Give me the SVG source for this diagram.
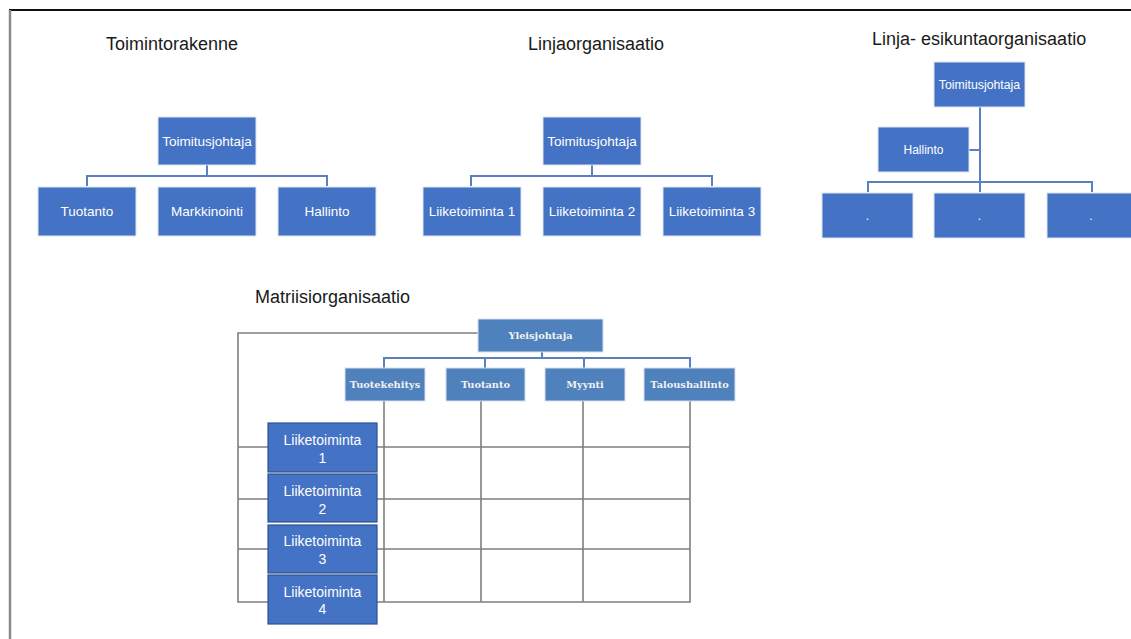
<svg xmlns="http://www.w3.org/2000/svg" width="1131" height="639" viewBox="0 0 1131 639">
  <style>
    .title { font-family: "Liberation Sans", Arial, sans-serif; font-size: 18px; fill: #1a1a1a; }
    .box { fill: #4472c4; stroke: #dbe3f3; stroke-width: 1; }
    .sbox { fill: #4f81bd; stroke: #d5e0ef; stroke-width: 1; }
    .rbox { fill: #4472c4; stroke: #2f528f; stroke-width: 1.2; }
    .lbl { font-family: "Liberation Sans", Arial, sans-serif; fill: #ffffff; text-anchor: middle; dominant-baseline: central; }
    .slbl { font-family: "DejaVu Serif", serif; font-weight: bold; font-size: 9.8px; fill: #f2f2f2; text-anchor: middle; dominant-baseline: central; }
    .conn { fill: none; stroke: #5b7fc1; stroke-width: 2; }
    .grid { fill: none; stroke: #7f7f7f; stroke-width: 1.6; }
  </style>

  <rect x="0" y="0" width="1131" height="639" fill="#ffffff"/>
  <!-- page frame -->
  <line x1="9" y1="10" x2="1131" y2="10" stroke="#111" stroke-width="2"/>
  <line x1="10" y1="10" x2="10" y2="639" stroke="#8a8a8a" stroke-width="2.5"/>

  <!-- section titles -->
  <text class="title" x="106" y="50">Toimintorakenne</text>
  <text class="title" x="528" y="50">Linjaorganisaatio</text>
  <text class="title" x="872" y="45">Linja- esikuntaorganisaatio</text>
  <text class="title" x="255" y="303">Matriisiorganisaatio</text>

  <!-- connectors -->
  <g id="connectors">
    <!-- Toimintorakenne -->
    <path class="conn" d="M207 165 V176 M87 186 V176 H327 V186"/>
    <!-- Linjaorganisaatio -->
    <path class="conn" d="M592 165 V176 M471 186 V176 H712 V186"/>
    <!-- Linja- esikuntaorganisaatio -->
    <path class="conn" d="M980 107 V192 M969 150 H980 M868 192 V182 H1092 V192"/>
    <!-- Matriisiorganisaatio: hierarchy -->
    <path class="conn" d="M542 352 V358 M384 368 V358 H690 V368 M485 358 V368 M584 358 V368"/>
    <!-- Matriisiorganisaatio: grid -->
    <path class="grid" d="M478 333 H238 V602 H690 V401"/>
    <path class="grid" d="M384 401 V602 M481 401 V602 M583 401 V602"/>
    <path class="grid" d="M238 447 H690 M238 499 H690 M238 549 H690"/>
  </g>

  <!-- Toimintorakenne -->
  <g id="t-toimitusjohtaja">
    <rect class="box" x="158" y="117" width="98" height="48"/>
    <text class="lbl" x="207" y="141" font-size="13.5">Toimitusjohtaja</text>
  </g>
  <g id="t-tuotanto">
    <rect class="box" x="38" y="187" width="98" height="49"/>
    <text class="lbl" x="87" y="211.5" font-size="13.5">Tuotanto</text>
  </g>
  <g id="t-markkinointi">
    <rect class="box" x="158" y="187" width="98" height="49"/>
    <text class="lbl" x="207" y="211.5" font-size="13.5">Markkinointi</text>
  </g>
  <g id="t-hallinto">
    <rect class="box" x="278" y="187" width="98" height="49"/>
    <text class="lbl" x="327" y="211.5" font-size="13.5">Hallinto</text>
  </g>

  <!-- Linjaorganisaatio -->
  <g id="l-toimitusjohtaja">
    <rect class="box" x="543" y="117" width="98" height="48"/>
    <text class="lbl" x="592" y="141" font-size="13.5">Toimitusjohtaja</text>
  </g>
  <g id="l-liiketoiminta1">
    <rect class="box" x="423" y="187" width="98" height="49"/>
    <text class="lbl" x="472" y="211.5" font-size="13.5">Liiketoiminta 1</text>
  </g>
  <g id="l-liiketoiminta2">
    <rect class="box" x="543" y="187" width="98" height="49"/>
    <text class="lbl" x="592" y="211.5" font-size="13.5">Liiketoiminta 2</text>
  </g>
  <g id="l-liiketoiminta3">
    <rect class="box" x="663" y="187" width="98" height="49"/>
    <text class="lbl" x="712" y="211.5" font-size="13.5">Liiketoiminta 3</text>
  </g>

  <!-- Linja- esikuntaorganisaatio -->
  <g id="e-toimitusjohtaja">
    <rect class="box" x="934" y="62" width="91" height="45"/>
    <text class="lbl" x="979.5" y="84.5" font-size="12.3">Toimitusjohtaja</text>
  </g>
  <g id="e-hallinto">
    <rect class="box" x="878" y="127" width="91" height="45"/>
    <text class="lbl" x="923.5" y="149.5" font-size="12">Hallinto</text>
  </g>
  <g id="e-yksikko1">
    <rect class="box" x="822" y="193" width="91" height="45"/>
    <text class="lbl" x="867.5" y="215.5" font-size="12">.</text>
  </g>
  <g id="e-yksikko2">
    <rect class="box" x="934" y="193" width="91" height="45"/>
    <text class="lbl" x="979.5" y="215.5" font-size="12">.</text>
  </g>
  <g id="e-yksikko3">
    <rect class="box" x="1047" y="193" width="91" height="45"/>
    <text class="lbl" x="1091" y="215.5" font-size="12">.</text>
  </g>

  <!-- Matriisiorganisaatio -->
  <g id="m-yleisjohtaja">
    <rect class="sbox" x="478" y="319" width="125" height="33"/>
    <text class="slbl" x="540.5" y="335.5">Yleisjohtaja</text>
  </g>
  <g id="m-tuotekehitys">
    <rect class="sbox" x="345" y="368" width="80" height="33"/>
    <text class="slbl" x="385" y="384.5">Tuotekehitys</text>
  </g>
  <g id="m-tuotanto">
    <rect class="sbox" x="446" y="368" width="79" height="33"/>
    <text class="slbl" x="485.5" y="384.5">Tuotanto</text>
  </g>
  <g id="m-myynti">
    <rect class="sbox" x="545" y="368" width="80" height="33"/>
    <text class="slbl" x="585" y="384.5">Myynti</text>
  </g>
  <g id="m-taloushallinto">
    <rect class="sbox" x="644" y="368" width="91" height="33"/>
    <text class="slbl" x="689.5" y="384.5">Taloushallinto</text>
  </g>

  <g id="m-liiketoiminta1">
    <rect class="rbox" x="268" y="423" width="109" height="49"/>
    <text class="lbl" x="322.5" y="440" font-size="14">Liiketoiminta</text>
    <text class="lbl" x="322.5" y="458" font-size="14">1</text>
  </g>
  <g id="m-liiketoiminta2">
    <rect class="rbox" x="268" y="474" width="109" height="48"/>
    <text class="lbl" x="322.5" y="490.5" font-size="14">Liiketoiminta</text>
    <text class="lbl" x="322.5" y="508.5" font-size="14">2</text>
  </g>
  <g id="m-liiketoiminta3">
    <rect class="rbox" x="268" y="525" width="109" height="48"/>
    <text class="lbl" x="322.5" y="540.5" font-size="14">Liiketoiminta</text>
    <text class="lbl" x="322.5" y="558.5" font-size="14">3</text>
  </g>
  <g id="m-liiketoiminta4">
    <rect class="rbox" x="268" y="575" width="109" height="49"/>
    <text class="lbl" x="322.5" y="591.5" font-size="14">Liiketoiminta</text>
    <text class="lbl" x="322.5" y="609" font-size="14">4</text>
  </g>
</svg>
